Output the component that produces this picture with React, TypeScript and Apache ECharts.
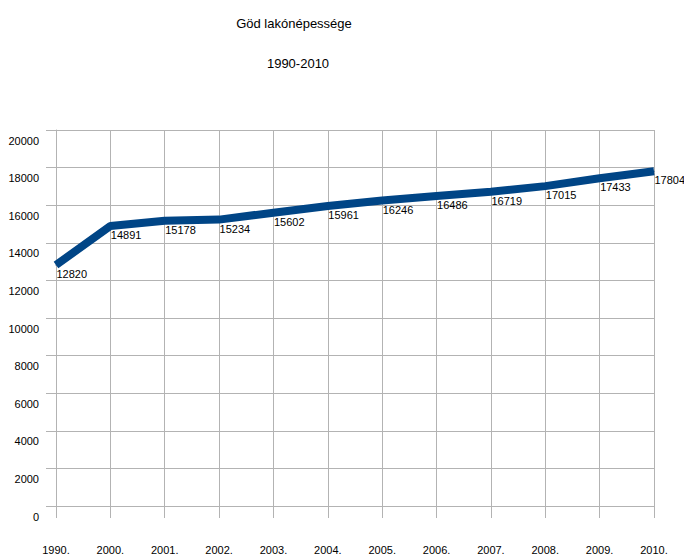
import React, { useEffect, useRef } from "react";
import * as echarts from "echarts";

const categories = ["1990.", "2000.", "2001.", "2002.", "2003.", "2004.", "2005.", "2006.", "2007.", "2008.", "2009.", "2010."];
const population = [12820, 14891, 15178, 15234, 15602, 15961, 16246, 16486, 16719, 17015, 17433, 17804];
const titleText = "Göd lakónépessége";
const subtitleText = "1990-2010";

export default function App() {
  const ref = useRef<HTMLDivElement>(null);
  useEffect(() => {
    if (!ref.current) return;
    const chart = echarts.init(ref.current, null, { renderer: "svg" });
    const font = "'Liberation Sans', Arial, sans-serif";
    const grid = "#b3b3b3";
    chart.setOption({
      animation: false,
      backgroundColor: "#ffffff",
      textStyle: { fontFamily: font },
      title: [
        { text: titleText, left: 289, top: 12, textAlign: "center", textStyle: { fontSize: 13, fontWeight: "normal", color: "#000", fontFamily: font } },
        { text: subtitleText, left: 293, top: 52, textAlign: "center", textStyle: { fontSize: 13, fontWeight: "normal", color: "#000", fontFamily: font } },
      ],
      grid: { left: 56, right: 30, top: 130, bottom: 50, containLabel: false },
      xAxis: {
        type: "category",
        data: categories,
        boundaryGap: false,
        axisLine: { show: true, lineStyle: { color: grid, width: 1 } },
        axisTick: { show: true, length: 12, lineStyle: { color: grid } },
        axisLabel: { margin: 38, fontSize: 11, color: "#000", fontFamily: font },
        splitLine: { show: true, lineStyle: { color: grid, width: 1 } },
      },
      yAxis: {
        type: "value",
        min: 0,
        max: 20000,
        interval: 2000,
        axisLine: { show: true, lineStyle: { color: grid, width: 1 } },
        axisTick: { show: true, length: 10, lineStyle: { color: grid } },
        axisLabel: {
          margin: 17,
          fontSize: 11,
          color: "#000",
          fontFamily: font,
          verticalAlign: "top",
          padding: [5, 0, 0, 0],
          formatter: (v: number) => String(v),
        },
        splitLine: { show: true, lineStyle: { color: grid, width: 1 } },
      },
      series: [
        {
          type: "line",
          data: population,
          symbol: "circle",
          symbolSize: 1,
          showSymbol: true,
          itemStyle: { color: "#004586" },
          lineStyle: { color: "#004586", width: 8 },
          label: { show: true, position: "right", distance: 0, offset: [0, 9], fontSize: 11, color: "#000", fontFamily: font },
        },
      ],
    });
    return () => chart.dispose();
  }, []);
  return <div ref={ref} style={{ position: "fixed", left: 0, top: 0, width: 684, height: 556 }} />;
}
